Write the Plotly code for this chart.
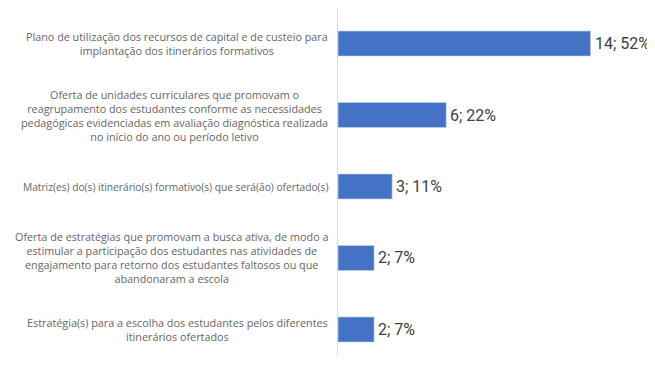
import plotly.graph_objects as go

categories = [
    "Plano de utilização dos recursos de capital e de custeio para<br>implantação dos itinerários formativos",
    "Oferta de unidades curriculares que promovam o<br>reagrupamento dos estudantes conforme as necessidades<br>pedagógicas evidenciadas em avaliação diagnóstica realizada<br>no início do ano ou período letivo",
    "Matriz(es) do(s) itinerário(s) formativo(s) que será(ão) ofertado(s)",
    "Oferta de estratégias que promovam a busca ativa, de modo a<br>estimular a participação dos estudantes nas atividades de<br>engajamento para retorno dos estudantes faltosos ou que<br>abandonaram a escola",
    "Estratégia(s) para a escolha dos estudantes pelos diferentes<br>itinerários ofertados",
]
counts = [14, 6, 3, 2, 2]
percents = [52, 22, 11, 7, 7]
labels = [f"{c}; {p}%" for c, p in zip(counts, percents)]

# page body has an 8px default margin; compensate
OFF = 8
W, H = 655 - OFF, 367 - OFF
ml, mr, mt, mb = 338 - OFF, 0, 8 - OFF, 12
px_per_unit = 18.04
xmax = (W - ml - mr) / px_per_unit

fig = go.Figure()
fig.add_trace(go.Bar(
    y=list(range(len(categories))),
    x=counts,
    orientation="h",
    width=0.35,
    marker=dict(color="#4472C4", line=dict(color="#c9d6ef", width=0.6)),
    textposition="none",
    hoverinfo="skip",
))

for i, (cat, v, lab) in enumerate(zip(categories, counts, labels)):
    size = 10.8 if "<br>" in cat else 10.2
    fig.add_annotation(
        x=0, y=i, xref="x", yref="y",
        text=cat, showarrow=False,
        xanchor="right", yanchor="middle", align="center",
        xshift=-8,
        font=dict(family="Open Sans", size=size, color="#666666"),
    )
    fig.add_annotation(
        x=v, y=i, xref="x", yref="y",
        text=lab, showarrow=False,
        xanchor="left", yanchor="middle", align="left",
        xshift=2,
        font=dict(family="Roboto", size=16, color="#404040"),
    )

fig.update_layout(
    width=W, height=H,
    margin=dict(l=ml, r=mr, t=mt, b=mb),
    paper_bgcolor="white", plot_bgcolor="white",
    showlegend=False,
    xaxis=dict(range=[0, xmax], showgrid=False, zeroline=False,
               showticklabels=False, showline=False),
    yaxis=dict(range=[4.357, -0.497], showgrid=False, zeroline=False,
               showticklabels=False, showline=True, linecolor="#d9d9d9",
               linewidth=1),
)

fig.write_html("out.html")
